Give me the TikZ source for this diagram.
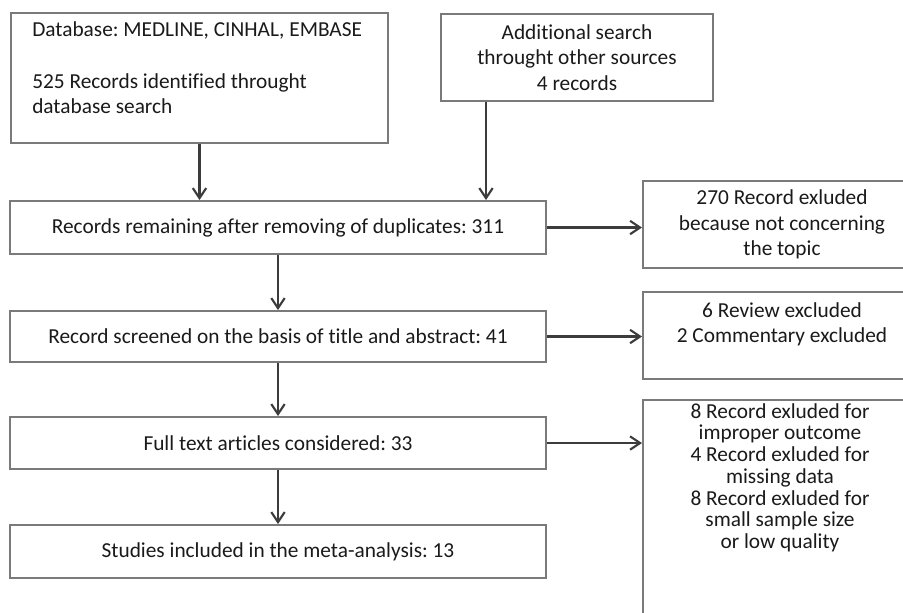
\documentclass[tikz,border=0pt]{standalone}
\usepackage{fontspec}
\setmainfont{Carlito}[Ligatures={NoCommon,NoContextual}]
\usetikzlibrary{arrows.meta}
\definecolor{boxgray}{HTML}{7A7A7A}
\definecolor{arrowgray}{HTML}{3C3C3C}
\definecolor{txt}{HTML}{1A1A1A}
\begin{document}
\frenchspacing
\begin{tikzpicture}[x=0.75pt,y=-0.75pt,
  box/.style={draw=boxgray, line width=1.5pt, inner sep=0pt, align=center, text=txt,
    font=\fontsize{16}{19}\selectfont},
  plain/.style={inner sep=0pt, text=txt, font=\fontsize{16}{19}\selectfont},
  arr/.style={draw=arrowgray, line width=1.6pt,
    -{Straight Barb[length=7.5pt,width=10pt,line width=1.6pt]}}]
\useasboundingbox (0,0) rectangle (903,612);
\clip (0,0) rectangle (903,612);
\fill[white] (0,0) rectangle (903,612);

% left column
\node[box, minimum width=282.75pt, minimum height=97.5pt] (b1) at (199.5,78) {};
\node[plain, anchor=north west, align=left] (b1t) at (32,21)
  {Database: MEDLINE, CINHAL, EMBASE\\[20pt]525 Records identified throught\\database search};
\node[box, minimum width=204pt, minimum height=65.25pt] (b2) at (577,57.5)
  {Additional search\\throught other sources\\4 records};
\node[box, minimum width=402pt, minimum height=39.75pt] (b3) at (278,227.5)
  {Records remaining after removing of duplicates: 311};
\node[box, minimum width=402pt, minimum height=38.25pt] (b5) at (278,336.5)
  {Record screened on the basis of title and abstract: 41};
\node[box, minimum width=402pt, minimum height=39pt] (b7) at (278,443)
  {Full text articles considered: 33};
\node[box, minimum width=402pt, minimum height=39.75pt] (b9) at (278,551.5)
  {Studies included in the meta-analysis: 13};

% right column
\node[box, minimum width=208.5pt, minimum height=65.25pt] (rA) at (782,224.5)
  {270 Record exluded\\because not concerning\\the topic};
\node[box, minimum width=208.5pt, minimum height=65.25pt] (rB) at (782,335.5)
  {6 Review excluded\\2 Commentary excluded\\\mbox{}};
\node[box, minimum width=208.5pt, minimum height=180pt] (rC) at (782,520) {};
\node[plain, anchor=north, align=center, font=\fontsize{16}{16.3}\selectfont] (rCt) at (780,403)
  {8 Record exluded for\\improper outcome\\4 Record exluded for\\missing data\\8 Record exluded for\\small sample size\\or low quality};

% connectors
\draw[arr] (b1.south) -- (b1.south |- b3.north);
\draw[arr] ([xshift=-68.25pt]b2.south) -- ([xshift=-68.25pt]b2.south |- b3.north);
\draw[arr] (b3.south) -- (b5.north);
\draw[arr] (b5.south) -- (b7.north);
\draw[arr] (b7.south) -- (b9.north);
\draw[arr] (b3.east) -- (b3.east -| rA.west);
\draw[arr] (b5.east) -- (b5.east -| rB.west);
\draw[arr] (b7.east) -- (b7.east -| rC.west);
\end{tikzpicture}
\end{document}
